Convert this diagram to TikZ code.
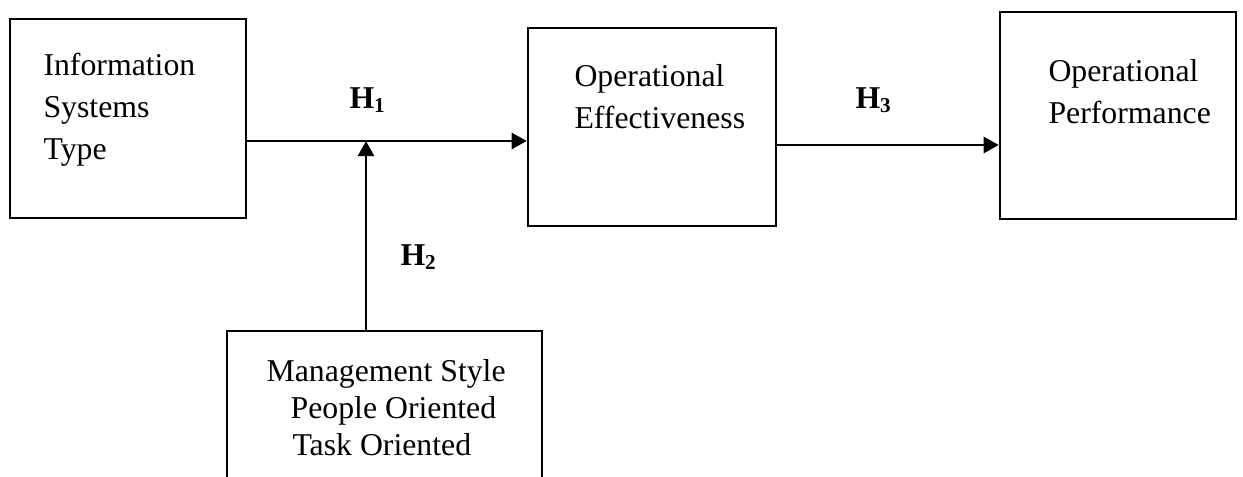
\documentclass[tikz,border=0pt]{standalone}
\usepackage{fontspec}
\setmainfont{Liberation Serif}
\usetikzlibrary{arrows.meta,fit}

\begin{document}
\begin{tikzpicture}[x=0.01328cm, y=-0.01328cm,
    >={Triangle[length=5.7pt,width=6pt]},
    box/.style={draw, line width=0.9pt, inner sep=0pt},
    txt/.style={inner sep=0pt, align=left, font=\fontsize{12pt}{15.7pt}\selectfont},
    hyp/.style={inner sep=0pt, font=\fontsize{12pt}{14pt}\selectfont\bfseries},
    link/.style={->, line width=1.1pt}]

  \useasboundingbox (0,0) rectangle (1243,477);

  % -- boxes
  \node[box, fit={(10,19) (246,218)}] (istype) {};
  \node[box, fit={(528,28) (776,226)}] (opeff) {};
  \node[box, fit={(1000,12) (1236,219)}] (opperf) {};
  \node[box, fit={(227,331) (542,500)}] (mgmt) {};

  % -- box texts (anchored at the last line)
  \node[txt, anchor=base west] (istypetxt) at (43,159) {Information\\Systems\\Type};
  \node[txt, anchor=base west] (opefftxt) at (574,128) {Operational\\Effectiveness};
  \node[txt, anchor=base west] (opperftxt) at (1048,123) {Operational\\Performance};
  \node[txt, anchor=base west, font=\fontsize{12pt}{13.8pt}\selectfont] (mgmttxt) at (266,455)
    {Management Style\\\hspace*{0.32cm}People Oriented\\\hspace*{0.345cm}Task Oriented};

  % -- hypotheses
  \node[hyp, anchor=base west] (h1) at (349,108) {H\textsubscript{1}};
  \node[hyp, anchor=base west] (h2) at (400,265) {H\textsubscript{2}};
  \node[hyp, anchor=base west] (h3) at (855,108) {H\textsubscript{3}};

  % -- links
  \coordinate (join) at (366,141);
  \coordinate (h3y) at (0,145);
  \draw[link] (istype.east |- join) -- (opeff.west |- join);
  \draw[link] (mgmt.north -| join) -- (join);
  \draw[link] (opeff.east |- h3y) -- (opperf.west |- h3y);

\end{tikzpicture}
\end{document}
